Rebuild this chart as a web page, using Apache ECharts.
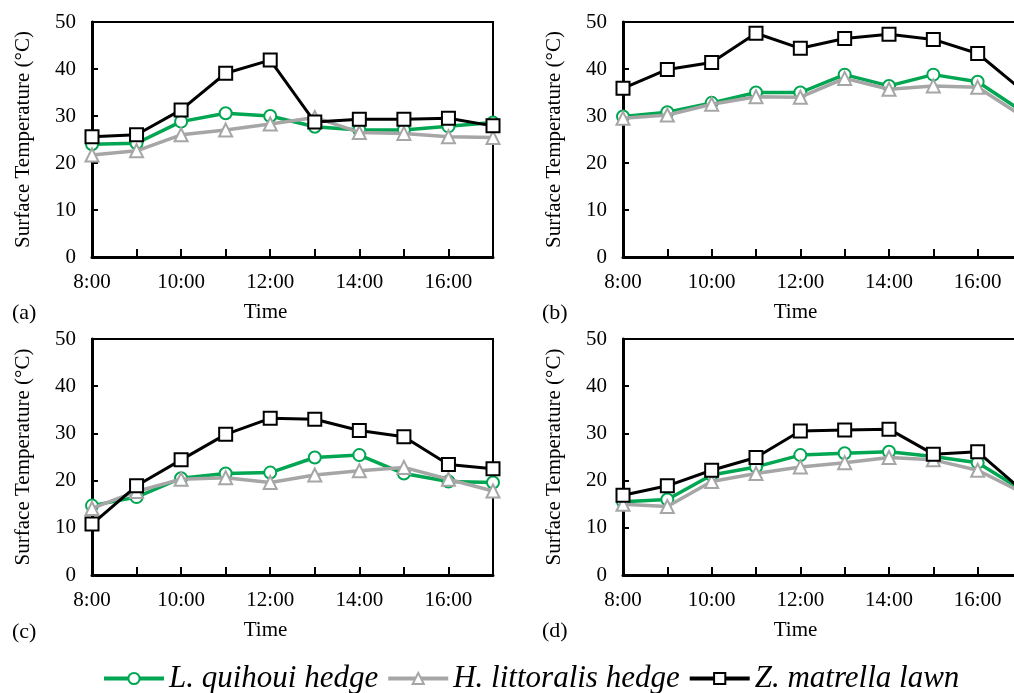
<!DOCTYPE html>
<html>
<head>
<meta charset="utf-8">
<script src="https://cdn.jsdelivr.net/npm/echarts@6/dist/echarts.min.js"></script>
<style>
  html, body { margin: 0; padding: 0; background: #fff; overflow: hidden; }
  /* the right-hand panels run past the picture's edge, as in the source figure */
  #chart { width: 1032px; height: 693px; }
</style>
</head>
<body>
<div id="chart"></div>
<script>
const hours = [8, 9, 10, 11, 12, 13, 14, 15, 16, 17]
const seriesNames = ['L. quihoui hedge', 'H. littoralis hedge', 'Z. matrella lawn']
const panelLabels = ['(a)', '(b)', '(c)', '(d)']

// (a)
const quihouiA = [24.0, 24.2, 28.8, 30.6, 30.0, 27.7, 27.0, 27.0, 27.8, 28.6]
const littoralisA = [21.7, 22.6, 26.0, 27.0, 28.3, 29.7, 26.5, 26.3, 25.6, 25.4]
const matrellaA = [25.6, 26.0, 31.3, 39.1, 41.9, 28.7, 29.3, 29.3, 29.5, 27.9]
// (b)
const quihouiB = [29.9, 30.8, 32.8, 35.0, 35.0, 38.8, 36.4, 38.8, 37.3, 31.0]
const littoralisB = [29.5, 30.2, 32.5, 34.1, 34.0, 38.0, 35.7, 36.4, 36.1, 30.0]
const matrellaB = [35.9, 39.9, 41.4, 47.6, 44.4, 46.5, 47.4, 46.3, 43.3, 35.5]
// (c)
const quihouiC = [14.7, 16.5, 20.5, 21.5, 21.7, 24.9, 25.4, 21.5, 19.8, 19.6]
const littoralisC = [14.1, 17.7, 20.3, 20.6, 19.6, 21.2, 22.1, 22.8, 20.3, 17.8]
const matrellaC = [10.8, 18.9, 24.4, 29.8, 33.2, 33.0, 30.6, 29.3, 23.4, 22.5]
// (d)
const quihouiD = [15.5, 16.0, 21.2, 22.9, 25.4, 25.8, 26.1, 25.1, 23.8, 18.0]
const littoralisD = [15.0, 14.5, 19.8, 21.5, 22.9, 23.8, 24.9, 24.4, 22.2, 17.5]
const matrellaD = [16.9, 18.9, 22.2, 24.9, 30.5, 30.7, 30.9, 25.6, 26.1, 18.0]

const panels = [
  [quihouiA, littoralisA, matrellaA],
  [quihouiB, littoralisB, matrellaB],
  [quihouiC, littoralisC, matrellaC],
  [quihouiD, littoralisD, matrellaD]
]

const font = 'Liberation Serif'
const gridBoxes = [
  { left: 92, top: 22, width: 401, height: 235 },
  { left: 623, top: 22, width: 399, height: 235 },
  { left: 92, top: 339, width: 401, height: 236 },
  { left: 623, top: 339, width: 399, height: 236 }
]
const labelPos = [[12, 315], [542, 315], [12, 634], [542, 633]]

const styles = [
  { color: '#00a651', symbol: 'circle', symbolSize: 12, width: 3.5 },
  { color: '#a6a6a6', symbol: 'triangle', symbolSize: 13, width: 3.5 },
  { color: '#000000', symbol: 'rect', symbolSize: 13, width: 3 }
]

const chart = echarts.init(document.getElementById('chart'))

const grids = gridBoxes.map(b => ({
  ...b,
  show: true,
  borderColor: '#000',
  borderWidth: 2,
  backgroundColor: 'transparent'
}))

const xAxes = gridBoxes.map((b, i) => ({
  type: 'value',
  gridIndex: i,
  min: 8,
  max: 17,
  interval: 1,
  name: 'Time',
  nameLocation: 'middle',
  nameGap: 45,
  nameTextStyle: { fontFamily: font, fontSize: 21, color: '#000', padding: [0, 54, 0, 0] },
  axisLine: { lineStyle: { color: '#000', width: 3 } },
  axisTick: { inside: true, length: 8, lineStyle: { color: '#000', width: 2 } },
  axisLabel: {
    fontFamily: font, fontSize: 21, color: '#000', margin: 15,
    showMaxLabel: true,
    formatter: v => (v % 2 === 0 && v < 17) ? v + ':00' : ''
  },
  splitLine: { show: false }
}))

const yAxes = gridBoxes.map((b, i) => ({
  type: 'value',
  gridIndex: i,
  min: 0,
  max: 50,
  interval: 10,
  name: 'Surface Temperature (°C)',
  nameLocation: 'middle',
  nameGap: 58,
  nameTextStyle: { fontFamily: font, fontSize: 21, color: '#000' },
  axisLine: { show: true, lineStyle: { color: '#000', width: 3 } },
  axisTick: { show: true, inside: true, length: 6, lineStyle: { color: '#000', width: 2 } },
  axisLabel: { fontFamily: font, fontSize: 21, color: '#000', margin: 16 },
  splitLine: { show: false }
}))

const series = []
panels.forEach((group, p) => {
  group.forEach((vals, k) => {
    const s = styles[k]
    series.push({
      name: seriesNames[k],
      type: 'line',
      xAxisIndex: p,
      yAxisIndex: p,
      data: hours.map((h, j) => [h, vals[j]]),
      symbol: s.symbol,
      symbolSize: s.symbolSize,
      showAllSymbol: true,
      clip: false,
      z: 2 + k,
      lineStyle: { color: s.color, width: s.width },
      itemStyle: { color: '#fff', borderColor: s.color, borderWidth: 2 },
      emphasis: { disabled: true },
      animation: false
    })
  })
})

chart.setOption({
  backgroundColor: '#fff',
  animation: false,
  grid: grids,
  xAxis: xAxes,
  yAxis: yAxes,
  legend: {
    data: seriesNames,
    left: 97,
    top: 658,
    itemWidth: 60,
    itemHeight: 14,
    itemGap: 8,
    lineStyle: { width: 4 },
    itemStyle: { borderWidth: 2 },
    textStyle: { fontFamily: font, fontSize: 31, fontStyle: 'italic', color: '#000' }
  },
  graphic: panelLabels.map((t, i) => ({
    type: 'text',
    left: labelPos[i][0],
    top: labelPos[i][1] - 13,
    style: { text: t, fontFamily: font, fontSize: 22, fill: '#000' }
  })),
  series: series
})
</script>
</body>
</html>
